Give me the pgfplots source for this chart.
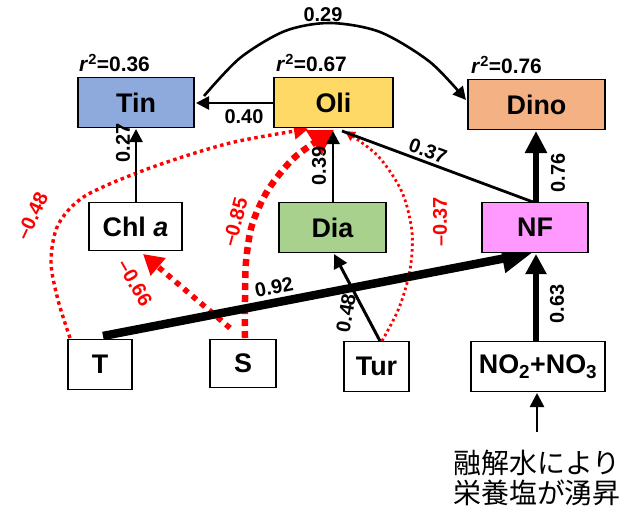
\documentclass[border=0pt]{standalone}
\usepackage{pgfplots}
\pgfplotsset{compat=1.18}
\usepackage{fontspec}
\setmainfont{Liberation Sans}
\newfontfamily\jp{Noto Sans CJK JP}
\usetikzlibrary{arrows.meta}
\definecolor{tinc}{HTML}{8EA9DB}
\definecolor{olic}{HTML}{FFD966}
\definecolor{dinoc}{HTML}{F4B183}
\definecolor{diac}{HTML}{A9D18E}
\definecolor{nfc}{HTML}{FF99FF}
\definecolor{redc}{HTML}{FF0000}
\tikzset{
  box/.style={draw=black, line width=1.8bp, minimum height=50bp, inner sep=0pt,
     font=\fontsize{27}{30}\selectfont\bfseries},
  lab/.style={font=\fontsize{20}{24}\selectfont\bfseries, inner sep=0pt},
  rlab/.style={font=\fontsize{20}{24}\selectfont\bfseries, text=redc, inner sep=0pt},
  rsq/.style={font=\fontsize{21}{25}\selectfont\bfseries, inner sep=0pt, anchor=base west},
}
\begin{document}
\begin{tikzpicture}
\begin{axis}[scale only axis, width=628bp, height=508bp,
  xmin=0, xmax=628, ymin=0, ymax=508, y dir=reverse, hide axis, clip=false]
\path (axis cs:0,0) rectangle (axis cs:628,508);

% red dotted / dashed paths
\addplot[redc, line width=3.4bp, dash pattern=on 3.5bp off 3.5bp, smooth,
  -{Triangle[length=14bp,width=16bp]}]
  coordinates {(70,338)(58,300)(51,262)(58,225)(85,196)(150,168)(230,143)(308,129)};
\addplot[redc, line width=6.5bp, dash pattern=on 7bp off 5bp, smooth,
  -{Triangle[length=24bp,width=28bp]}]
  coordinates {(245,338)(245,300)(246,262)(252,225)(268,190)(295,157)(334,130)};
\addplot[redc, line width=2.8bp, dash pattern=on 2.6bp off 3bp, smooth,
  -{Triangle[length=10bp,width=10bp]}]
  coordinates {(382,341)(399,308)(410,270)(412,232)(402,192)(378,156)(345,131)};
\addplot[redc, line width=5.5bp, dash pattern=on 5.5bp off 5.5bp,
  -{Triangle[length=20bp,width=22bp]}]
  coordinates {(230,328)(143,254)};

% black arrows
\addplot[black, line width=2.6bp, -{Triangle[length=13bp,width=13bp]}]
  coordinates {(273,103)(196,103)};
\addplot[black, line width=2.6bp, -{Triangle[length=13bp,width=13bp]}]
  coordinates {(136,202)(136,129)};
\addplot[black, line width=2.6bp, -{Triangle[length=13bp,width=13bp]}]
  coordinates {(333,202)(333,131)};
\addplot[black, line width=2.8bp]
  coordinates {(533,202)(342,131)};
\addplot[black, line width=3bp, -{Triangle[length=14bp,width=14bp]}]
  coordinates {(380,341)(334,254)};
\addplot[black, line width=2.6bp, smooth, -{Triangle[length=13bp,width=13bp]}]
  coordinates {(204,96)(240,58)(285,31)(330,23)(380,32)(430,62)(466,100)};
\addplot[black, line width=6.5bp, -{Triangle[length=22bp,width=21bp]}]
  coordinates {(536,202)(536,131)};
\addplot[black, line width=5.5bp, -{Triangle[length=20bp,width=20bp]}]
  coordinates {(536,341)(536,254)};
\addplot[black, line width=8.5bp, -{Triangle[length=30bp,width=27bp]}]
  coordinates {(103,336)(532,253)};
\addplot[black, line width=2.6bp, -{Triangle[length=14bp,width=14bp]}]
  coordinates {(537,432)(537,393)};

% boxes
\node[box, fill=tinc, minimum width=116bp] at (axis cs:136,102.5) {Tin};
\node[box, fill=olic, minimum width=119bp] at (axis cs:333.5,102.5) {Oli};
\node[box, fill=dinoc, minimum width=137bp] at (axis cs:536.5,104.5) {Dino};
\node[box, fill=white, minimum width=93bp, minimum height=48bp] at (axis cs:135.5,226.5) {Chl \textit{a}};
\node[box, fill=diac, minimum width=107bp] at (axis cs:332.5,227.5) {Dia};
\node[box, fill=nfc, minimum width=106bp] at (axis cs:535,227.5) {NF};
\node[box, fill=white, minimum width=64bp] at (axis cs:100,364.5) {T};
\node[box, fill=white, minimum width=66bp, minimum height=48bp] at (axis cs:243,363.5) {S};
\node[box, fill=white, minimum width=65bp] at (axis cs:376.5,366.5) {Tur};
\node[box, fill=white, minimum width=134bp] at (axis cs:538,366.5) {NO\textsubscript{2}+NO\textsubscript{3}};

% r^2 labels
\node[rsq] at (axis cs:79,72) {\textit{r}\textsuperscript{2}=0.36};
\node[rsq] at (axis cs:276,72) {\textit{r}\textsuperscript{2}=0.67};
\node[rsq] at (axis cs:471,74) {\textit{r}\textsuperscript{2}=0.76};

% coefficient labels
\node[lab] at (axis cs:323,15) {0.29};
\node[lab] at (axis cs:244,117) {0.40};
\node[lab, rotate=90] at (axis cs:123,143) {0.27};
\node[lab, rotate=90] at (axis cs:319,166) {0.39};
\node[lab, rotate=-20] at (axis cs:428,151) {0.37};
\node[lab, rotate=90] at (axis cs:558,173) {0.76};
\node[lab, rotate=11] at (axis cs:274,287) {0.92};
\node[lab, rotate=80] at (axis cs:346,313) {0.48};
\node[lab, rotate=90] at (axis cs:557,304) {0.63};
\node[rlab, rotate=65] at (axis cs:32,216) {–0.48};
\node[rlab, rotate=75] at (axis cs:235,222) {–0.85};
\node[rlab, rotate=-60] at (axis cs:135,283) {–0.66};
\node[rlab, rotate=90] at (axis cs:440,222) {–0.37};

% Japanese note
\node[font=\jp\fontsize{28}{32}\selectfont, inner sep=0pt] at (axis cs:537,463) {融解水により};
\node[font=\jp\fontsize{28}{32}\selectfont, inner sep=0pt] at (axis cs:537,493) {栄養塩が湧昇};
\end{axis}
\end{tikzpicture}
\end{document}
